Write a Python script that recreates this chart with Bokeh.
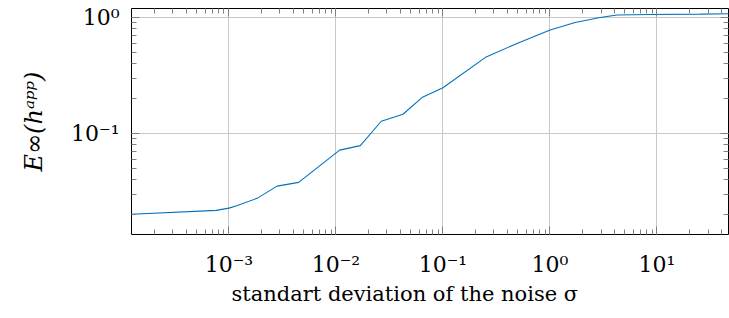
from bokeh.plotting import figure
from bokeh.models import LogAxis, FixedTicker, CustomJSTickFormatter, Range1d, LogScale, Title, Grid
from bokeh.embed import file_html
from bokeh.resources import INLINE

# data
sigma = [1.23e-4, 7.64e-4, 1.0e-3, 1.162e-3, 1.833e-3, 2.818e-3, 4.485e-3,
         1.083e-2, 1.69e-2, 2.654e-2, 4.232e-2, 6.37e-2, 0.1, 0.2537, 0.5049,
         1.004, 1.719, 2.942, 4.24, 8.62, 25.3, 47.1]
error = [0.0203, 0.0219, 0.0229, 0.0239, 0.0278, 0.0354, 0.0381,
         0.0721, 0.0788, 0.1277, 0.1466, 0.2039, 0.2473, 0.456, 0.601,
         0.777, 0.901, 0.994, 1.044, 1.055, 1.061, 1.069]

x_ticks = [1e-3, 1e-2, 1e-1, 1.0, 10.0]
x_tick_labels = ["10\u207b\u00b3", "10\u207b\u00b2", "10\u207b\u00b9", "10\u2070", "10\u00b9"]
y_ticks = [1e-1, 1.0]
y_tick_labels = ["10\u207b\u00b9", "10\u2070"]

x_label = "standart deviation of the noise \u03c3"
y_label = "E\u221e(h\u1d43\u1d56\u1d56)"

x_min, x_max = 1.23e-4, 46.6
y_min, y_max = 0.0136, 1.187

x_minor = [m * 10.0 ** d for d in range(-4, 2) for m in range(2, 10)]
y_minor = [m * 10.0 ** d for d in range(-2, 1) for m in range(2, 10)]

FONT = "DejaVu Serif"
FS = "22px"
LFS = "21px"

p = figure(output_backend="svg", toolbar_location=None,
           x_axis_type=None, y_axis_type=None,
           x_range=Range1d(x_min, x_max), y_range=Range1d(y_min, y_max),
           frame_width=597, frame_height=226,
           min_border_left=131, min_border_right=1,
           min_border_top=8, min_border_bottom=84)
p.x_scale = LogScale()
p.y_scale = LogScale()
p.background_fill_color = "white"
p.border_fill_color = "white"
p.outline_line_color = "black"
p.outline_line_width = 1

fmt_js = """
const i = tvals.findIndex(t => Math.abs(Math.log10(t) - Math.log10(tick)) < 1e-6);
return i >= 0 ? tlabels[i] : "";
"""

def make_axis(tks, minor, labels, show_labels):
    ax = LogAxis(ticker=FixedTicker(ticks=tks, minor_ticks=minor))
    ax.formatter = CustomJSTickFormatter(
        args=dict(tvals=tks, tlabels=labels if show_labels else [""] * len(tks)),
        code=fmt_js)
    ax.axis_line_color = None
    ax.major_tick_in = 8
    ax.major_tick_out = 0
    ax.minor_tick_in = 5
    ax.minor_tick_out = 0
    ax.major_tick_line_color = "#808080"
    ax.minor_tick_line_color = "#808080"
    ax.major_tick_line_width = 1
    ax.minor_tick_line_width = 1
    if show_labels:
        ax.major_label_text_font = FONT
        ax.major_label_text_font_size = FS
        ax.major_label_text_color = "black"
        ax.major_label_standoff = 12
        ax.axis_label_text_font = FONT
        ax.axis_label_text_font_size = LFS
        ax.axis_label_text_font_style = "normal"
        ax.axis_label_text_color = "black"
    else:
        ax.major_label_text_font_size = "0px"
        ax.major_label_standoff = 0
    return ax

xb = make_axis(x_ticks, x_minor, x_tick_labels, True)
xb.major_label_standoff = 17
yl = make_axis(y_ticks, y_minor, y_tick_labels, True)
yl.axis_label = y_label
yl.axis_label_text_font_size = "24px"
yl.axis_label_text_font_style = "italic"
yl.axis_label_standoff = 20
xt = make_axis(x_ticks, x_minor, x_tick_labels, False)
yr = make_axis(y_ticks, y_minor, y_tick_labels, False)

p.add_layout(xb, "below")
p.add_layout(yl, "left")
p.add_layout(xt, "above")
p.add_layout(yr, "right")

xlab = Title(text=x_label, align="left", offset=100, standoff=0,
             text_font=FONT, text_font_size=LFS, text_font_style="normal",
             text_color="black")
p.add_layout(xlab, "below")

xgrid = Grid(dimension=0, ticker=xb.ticker, grid_line_color="#c8c8c8", grid_line_width=1)
ygrid = Grid(dimension=1, ticker=yl.ticker, grid_line_color="#c8c8c8", grid_line_width=1)
p.add_layout(xgrid)
p.add_layout(ygrid)

p.line(sigma, error, line_color="#0072bd", line_width=1.1)

open("out.html", "w").write(file_html(p, INLINE))
